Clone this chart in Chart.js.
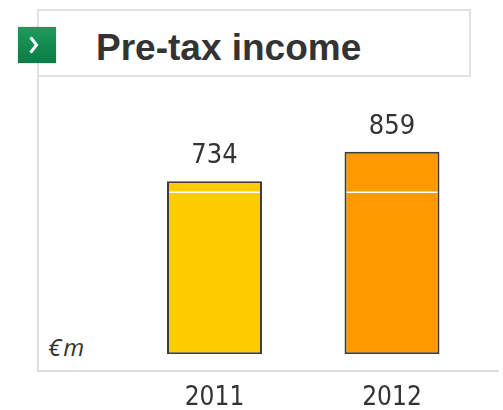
<!DOCTYPE html>
<html>
<head>
<meta charset="utf-8">
<script src="https://cdn.jsdelivr.net/npm/chart.js@4.4.1/dist/chart.umd.min.js"></script>
<style>
    html, body { margin: 0; padding: 0; background: #fff; }
    body { position: relative; width: 503px; height: 410px; overflow: hidden; }
    .frame {
        position: absolute; left: 37px; top: 75px; width: 460px; height: 295px;
        border-left: 2px solid #dedede; border-bottom: 2px solid #dedede;
    }
    .titlebox {
        position: absolute; left: 37px; top: 9px; width: 434px; height: 68px;
        box-sizing: border-box; border: 2px solid #e2e2e2; background: #fff;
    }
    .title {
        position: absolute; left: 96px; top: 26.7px; line-height: 37px;
        font: bold 37px "Liberation Sans", Arial, sans-serif; color: #333;
        white-space: nowrap;
    }
    .icon {
        position: absolute; left: 18px; top: 27px; width: 38px; height: 36px;
        background: linear-gradient(#1c9c5c, #0b7d45);
        box-shadow: 0 0 1px rgba(0,0,0,0.4);
    }
    .icon svg { position: absolute; left: 0; top: 0; }
    .unit {
        position: absolute; left: 48px; top: 330.2px; line-height: 24px;
        font: italic 24px "Open Sans", sans-serif; color: #333; letter-spacing: 2px;
    }
    canvas { position: absolute; left: 0; top: 0; }
</style>
</head>
<body>
<div class="frame"></div>
<div class="titlebox"></div>
<div class="icon">
    <svg width="38" height="36" viewBox="0 0 38 36">
        <polyline points="31.5,38.5 36.5,45 31.5,51.5" transform="translate(-18,-27)"
                  fill="none" stroke="#fff" stroke-width="3" stroke-linecap="square"/>
    </svg>
</div>
<div class="title">Pre-tax income</div>
<div class="unit">€m</div>
<canvas id="chart" width="503" height="410"></canvas>

<script>
const years      = ['2011', '2012'];
const income     = [734, 859];
const barColours = ['#FFCC00', '#FF9900'];
const splitValue = 687;   // white rule crossing both bars

const NARROW = '"Liberation Sans Narrow", "DejaVu Sans Condensed", sans-serif';

const barExtras = {
    id: 'barExtras',
    afterDatasetsDraw(chart)
    {
        const ctx  = chart.ctx;
        const meta = chart.getDatasetMeta(0);
        const yPos = chart.scales.y.getPixelForValue(splitValue);

        ctx.save();
        meta.data.forEach((bar, i) =>
        {
            const half = bar.width / 2;

            // white rule
            ctx.strokeStyle = '#fff';
            ctx.lineWidth = 1.5;
            ctx.beginPath();
            ctx.moveTo(bar.x - half + 2, yPos);
            ctx.lineTo(bar.x + half - 2, yPos);
            ctx.stroke();

            // value label
            ctx.fillStyle = '#333';
            ctx.font = '27px ' + NARROW;
            ctx.textAlign = 'center';
            ctx.textBaseline = 'alphabetic';
            ctx.fillText(String(income[i]), bar.x, bar.y - 18);
        });
        ctx.restore();
    }
};

new Chart(document.getElementById('chart'), {
    type: 'bar',
    data: {
        labels: years,
        datasets: [{
            data: income,
            backgroundColor: barColours,
            borderColor: '#3c3c3c',
            borderWidth: 2,
            borderSkipped: false,
            barPercentage: 0.535,
            categoryPercentage: 1
        }]
    },
    options: {
        responsive: false,
        animation: false,
        layout: { padding: { left: 125.75, right: 22.25, top: 95, bottom: 0 } },
        plugins: { legend: { display: false }, tooltip: { enabled: false } },
        scales: {
            x: {
                grid: { display: false, drawTicks: false },
                border: { display: false },
                ticks: {
                    color: '#333',
                    padding: 31.2,
                    font: { family: NARROW, size: 26, lineHeight: 1 }
                },
                afterFit(scale) { scale.height = 55.7; }
            },
            y: { display: false, min: 0, max: 1100 }
        }
    },
    plugins: [barExtras]
});
</script>
</body>
</html>
